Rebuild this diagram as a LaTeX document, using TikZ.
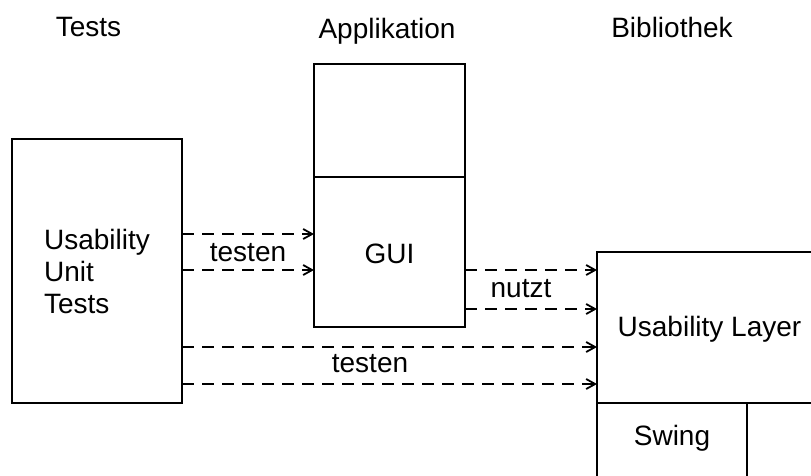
\documentclass[tikz,border=0pt]{standalone}
\usepackage{fontspec}
\setmainfont{Liberation Sans}
\usetikzlibrary{arrows.meta,calc}
\begin{document}
\begin{tikzpicture}[x=1pt,y=-1pt,
  box/.style={draw, line width=1.9pt, inner sep=0pt, outer sep=0pt},
  txt/.style={font=\fontsize{28}{32}\selectfont, text height=20pt, text depth=6pt, inner sep=0pt},
  uses/.style={draw, line width=1.8pt, dash pattern=on 12pt off 8pt,
    -{Straight Barb[length=9pt,width=10pt,line width=1.8pt]}},
]
\useasboundingbox (0,0) rectangle (811,475);
% headers
\node[txt] (hTests) at (88.5,29) {Tests};
\node[txt] (hApp) at (387,31) {Applikation};
\node[txt] (hLib) at (672,30) {Bibliothek};
% tests box
\node[box, minimum width=170pt, minimum height=264pt, align=left,
      font=\fontsize{28}{32}\selectfont] (tests) at (97,271) {Usability\\Unit\\Tests};
% application
\node[box, minimum width=151pt, minimum height=113pt] (apptop) at (389.5,120.5) {};
\node[box, txt, text height=28pt, minimum width=151pt, minimum height=150pt] (gui) at (389.5,252) {GUI};
% library
\node[box, txt, text height=24.4pt, minimum width=225pt, minimum height=151pt] (layer) at (709.5,327.5) {Usability Layer};
\node[box, minimum width=150pt, minimum height=90pt, anchor=north west] (swing) at (597,403) {};
\node[txt] (swingtxt) at (672,438) {Swing};
\node[box, minimum width=100pt, minimum height=90pt, anchor=north west] (other) at (747,403) {};
% connectors
\draw[uses] ($(tests.east)+(0,-37)$) -- ($(gui.west)+(0,-18)$);
\draw[uses] ($(tests.east)+(0,-1)$) -- ($(gui.west)+(0,18)$);
\draw[uses] ($(gui.east)+(0,18)$) -- ($(layer.west)+(0,-57.5)$);
\draw[uses] ($(gui.east)+(0,57)$) -- ($(layer.west)+(0,-18.5)$);
\draw[uses] ($(tests.east)+(0,76)$) -- ($(layer.west)+(0,19.5)$);
\draw[uses] ($(tests.east)+(0,113)$) -- ($(layer.west)+(0,56.5)$);
% labels
\node[txt] (l1) at (248,254) {testen};
\node[txt] (l2) at (521,290) {nutzt};
\node[txt] (l3) at (370,365) {testen};
\end{tikzpicture}
\end{document}
